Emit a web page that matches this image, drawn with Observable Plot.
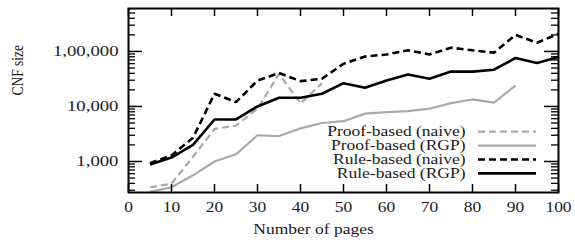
<!DOCTYPE html>
<html>
<head>
<meta charset="utf-8">
<script src="https://cdn.jsdelivr.net/npm/d3@7"></script>
<script src="https://cdn.jsdelivr.net/npm/@observablehq/plot@0.6"></script>
<style>
  html, body { margin: 0; padding: 0; background: #fff; }
  #chart { position: relative; width: 575px; height: 242px; }
</style>
</head>
<body>
<div id="chart"></div>
<script>
// ---- data ----
const pages = [5, 10, 15, 20, 25, 30, 35, 40, 45, 50, 55, 60, 65, 70, 75, 80, 85, 90, 95, 100];
const proofNaive = [340, 395, 1220, 3900, 4500, 9100, 39000, 11300, 26500];
const proofRGP = [280, 340, 560, 1000, 1350, 3000, 2900, 4000, 5000, 5400, 7400, 7900, 8200, 9100, 11500, 13400, 11700, 24000];
const ruleNaive = [930, 1290, 2700, 17000, 12000, 29500, 40500, 28900, 31900, 59800, 81000, 88000, 105000, 88000, 117000, 105000, 95000, 200000, 144000, 210000];
const ruleRGP = [880, 1180, 2000, 5800, 5800, 10000, 14400, 14400, 17000, 26500, 21800, 29500, 38000, 31900, 43000, 43000, 46500, 76000, 61500, 79000];

const seriesNames = ["Proof-based (naive)", "Proof-based (RGP)", "Rule-based (naive)", "Rule-based (RGP)"];
const seriesValues = [proofNaive, proofRGP, ruleNaive, ruleRGP];
const seriesColors = ["#a9a9a9", "#a9a9a9", "#000000", "#000000"];
const seriesWidths = [2.2, 2.2, 2.6, 2.6];
const seriesDash = ["7,4", null, "7,4", null];

const xTickValues = [0, 10, 20, 30, 40, 50, 60, 70, 80, 90, 100];
const xTickLabels = ["0", "10", "20", "30", "40", "50", "60", "70", "80", "90", "100"];
const yTickValues = [1000, 10000, 100000];
const yTickLabels = ["1,000", "10,000", "1,00,000"];
const yMinorValues = [300, 400, 500, 600, 700, 800, 900, 2000, 3000, 4000, 5000, 6000, 7000, 8000, 9000,
  20000, 30000, 40000, 50000, 60000, 70000, 80000, 90000, 200000, 300000, 400000, 500000, 600000];
const xLabel = "Number of pages";
const yLabel = "CNF size";

// ---- layout ----
const W = 575, H = 242;
const mL = 128, mR = 17, mT = 8, mB = 50;
const pW = W - mL - mR, pH = H - mT - mB;
const stretch = 1.25;

const rows = [];
seriesValues.forEach((vals, s) => vals.forEach((v, i) => rows.push({series: seriesNames[s], s, x: pages[i], y: v})));

const lineMarks = seriesNames.map((name, s) =>
  Plot.line(rows.filter(d => d.s === s), {
    x: "x", y: "y", stroke: seriesColors[s], strokeWidth: seriesWidths[s],
    strokeDasharray: seriesDash[s], strokeLinejoin: "miter", strokeLinecap: "butt", clip: true
  })
);

const chart = Plot.plot({
  width: W, height: H,
  marginLeft: mL, marginRight: mR, marginTop: mT, marginBottom: mB,
  style: {fontFamily: "'Liberation Serif', 'Times New Roman', serif", fontSize: "14px", color: "#1a1a1a", background: "#fff"},
  x: {domain: [0, 100], axis: null},
  y: {type: "log", domain: [273, 603000], axis: null},
  marks: [
    ...lineMarks,
    // ticks (inward, mirrored)
    Plot.tickX(xTickValues, {x: d => d, insetTop: pH - 8, stroke: "#000", strokeWidth: 1.5}),
    Plot.tickX(xTickValues, {x: d => d, insetBottom: pH - 8, stroke: "#000", strokeWidth: 1.5}),
    Plot.tickY(yTickValues, {y: d => d, insetRight: pW - 14, stroke: "#000", strokeWidth: 1.5}),
    Plot.tickY(yTickValues, {y: d => d, insetLeft: pW - 14, stroke: "#000", strokeWidth: 1.5}),
    Plot.tickY(yMinorValues, {y: d => d, insetRight: pW - 7, stroke: "#000", strokeWidth: 1.3}),
    Plot.tickY(yMinorValues, {y: d => d, insetLeft: pW - 7, stroke: "#000", strokeWidth: 1.3}),
    Plot.frame({stroke: "#000", strokeWidth: 2}),
    Plot.axisX({ticks: xTickValues, tickFormat: (d) => xTickLabels[xTickValues.indexOf(d)], tickSize: 0, tickPadding: 10, label: null}),
    Plot.axisY({ticks: yTickValues, tickFormat: (d) => yTickLabels[yTickValues.indexOf(d)], tickSize: 0, tickPadding: 10, label: null, fontSize: 15}),
    Plot.text([xLabel], {text: d => d, frameAnchor: "bottom", dx: -30, dy: 37, lineAnchor: "middle"}),
    Plot.text([yLabel], {text: d => d, frameAnchor: "left", dx: -110.5, dy: -5, rotate: -90, lineAnchor: "middle", fontSize: 13.5, fill: "#1a1a1a"})
  ]
});

// legend inside plot frame
const svg = d3.select(chart);
const lg = svg.append("g").attr("class", "legend");
const legendRight = 465.5, legendTop = 131.7, legendStep = 13.9;
seriesNames.forEach((name, s) => {
  const y = legendTop + s * legendStep;
  lg.append("text")
    .attr("transform", `translate(${legendRight},${y})`)
    .attr("text-anchor", "end")
    .attr("dy", "0.32em")
    .attr("fill", "#1a1a1a")
    .text(name);
  lg.append("line")
    .attr("x1", 478).attr("x2", 536).attr("y1", y).attr("y2", y)
    .attr("stroke", seriesColors[s]).attr("stroke-width", seriesWidths[s])
    .attr("stroke-dasharray", seriesDash[s]);
});

// horizontally stretch text glyphs to match the reference's wide serif look
chart.querySelectorAll("text").forEach(t => {
  const tr = t.getAttribute("transform");
  const rotated = tr && tr.includes("rotate(-90");
  if (tr) {
    t.setAttribute("transform", tr + (rotated ? ` scale(1,${stretch})` : ` scale(${stretch},1)`));
  } else {
    const x = +t.getAttribute("x") || 0, y = +t.getAttribute("y") || 0;
    t.setAttribute("transform", `translate(${x},${y}) scale(${stretch},1) translate(${-x},${-y})`);
  }
});

document.getElementById("chart").appendChild(chart);
</script>
</body>
</html>
